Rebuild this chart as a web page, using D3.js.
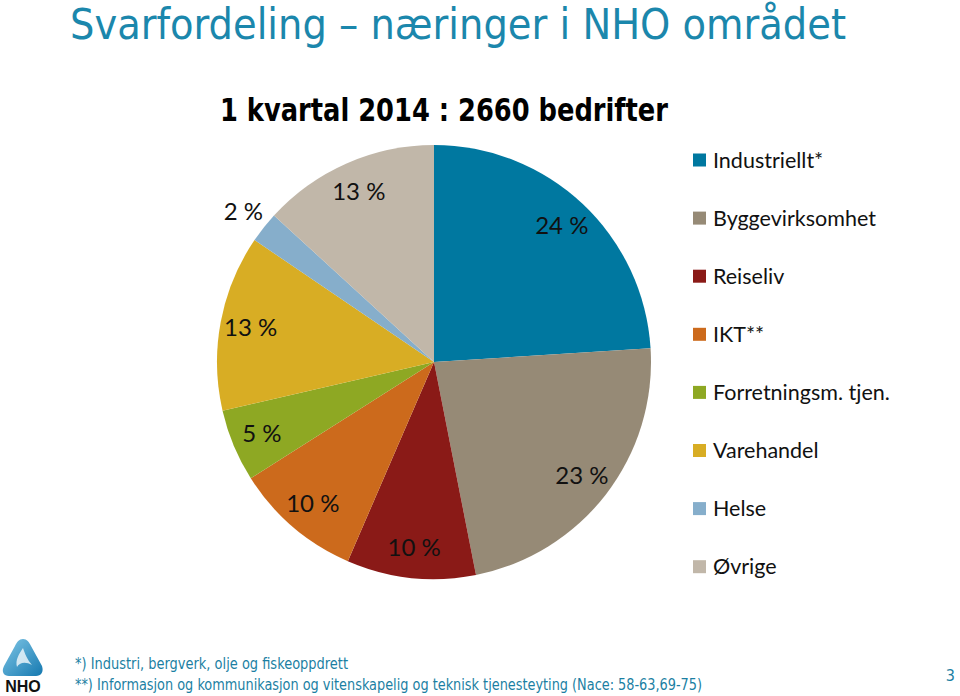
<!DOCTYPE html>
<html>
<head>
<meta charset="utf-8">
<script src="https://cdn.jsdelivr.net/npm/d3@7"></script>
<style>
  body { margin: 0; background: #fff; }
  svg { display: block; }
</style>
</head>
<body>
<div id="chart"></div>
<script>
// data
const categories = ["Industriellt*", "Byggevirksomhet", "Reiseliv", "IKT**",
  "Forretningsm. tjen.", "Varehandel", "Helse", "Øvrige"];
const shares = [24.0, 22.9, 9.6, 9.5, 5.4, 13.1, 2.3, 13.2];
const colors = ["#0078a0", "#968a76", "#8a1a17", "#cc6a1c",
  "#8ea823", "#d8ad24", "#86aecb", "#c1b7a9"];
const footnotes = [
  "*) Industri, bergverk, olje og fiskeoppdrett",
  "**) Informasjon og kommunikasjon og vitenskapelig og teknisk tjenesteyting (Nace: 58-63,69-75)"
];

const width = 960, height = 696;
const svg = d3.select("#chart").append("svg")
  .attr("width", width).attr("height", height);

// titles
svg.append("text")
  .attr("x", 70).attr("y", 39)
  .attr("font-family", "'Liberation Sans Narrow', 'DejaVu Sans Condensed', sans-serif")
  .attr("font-size", 42)
  .attr("fill", "#1b87ac")
  .attr("textLength", 776).attr("lengthAdjust", "spacingAndGlyphs")
  .text("Svarfordeling – næringer i NHO området");

svg.append("text")
  .attr("x", 220).attr("y", 121)
  .attr("font-family", "'Liberation Sans Narrow', 'DejaVu Sans Condensed', sans-serif")
  .attr("font-weight", "bold")
  .attr("font-size", 32)
  .attr("fill", "#000")
  .attr("textLength", 448).attr("lengthAdjust", "spacingAndGlyphs")
  .text("1 kvartal 2014 : 2660 bedrifter");

// pie
const cx = 434, cy = 362, r = 217;
const data = categories.map((c, i) => ({ name: c, value: shares[i], color: colors[i] }));
const pie = d3.pie().value(d => d.value).sort(null);
const arcs = pie(data);
const arc = d3.arc().innerRadius(0).outerRadius(r);

const g = svg.append("g").attr("transform", `translate(${cx},${cy})`);
g.selectAll("path.slice")
  .data(arcs)
  .enter()
  .append("path")
  .attr("class", "slice")
  .attr("d", arc)
  .attr("fill", d => d.data.color);

// labels: inside at ~0.85r, small slices outside
const inLabel = d3.arc().innerRadius(r * 0.86).outerRadius(r * 0.86);
const outLabel = d3.arc().innerRadius(r * 1.12).outerRadius(r * 1.12);
g.selectAll("text.lbl")
  .data(arcs)
  .enter()
  .append("text")
  .attr("class", "lbl")
  .attr("transform", d => `translate(${(d.data.value < 3 ? outLabel : inLabel).centroid(d)})`)
  .attr("text-anchor", "middle")
  .attr("dy", "0.35em")
  .attr("font-family", "Lato, 'Open Sans', sans-serif")
  .attr("font-size", 24)
  .attr("fill", "#111")
  .text(d => Math.round(d.data.value) + " %");

// legend
const legend = svg.append("g").attr("transform", "translate(693,160)");
const rows = legend.selectAll("g.row")
  .data(data)
  .enter()
  .append("g")
  .attr("class", "row")
  .attr("transform", (d, i) => `translate(0,${i * 58.1})`);
rows.append("rect")
  .attr("x", 0).attr("y", -6.5)
  .attr("width", 13).attr("height", 13)
  .attr("fill", d => d.color);
rows.append("text")
  .attr("x", 20).attr("y", 0)
  .attr("dy", "0.35em")
  .attr("font-family", "Lato, 'Open Sans', sans-serif")
  .attr("font-size", 21.5)
  .attr("fill", "#111")
  .text(d => d.name);

// footnotes
svg.selectAll("text.note")
  .data(footnotes)
  .enter()
  .append("text")
  .attr("class", "note")
  .attr("x", 75)
  .attr("y", (d, i) => 669 + i * 21)
  .attr("font-family", "'DejaVu Sans Condensed', 'Liberation Sans Narrow', sans-serif")
  .attr("font-size", 16)
  .attr("fill", "#1b7fa3")
  .attr("textLength", (d, i) => i === 0 ? 273 : 627)
  .attr("lengthAdjust", "spacingAndGlyphs")
  .text(d => d);

svg.append("text")
  .attr("x", 955).attr("y", 681)
  .attr("text-anchor", "end")
  .attr("font-family", "'DejaVu Sans Condensed', sans-serif")
  .attr("font-size", 16)
  .attr("fill", "#1b7fa3")
  .text("3");

// NHO logo (rough)
const logo = svg.append("g").attr("transform", "translate(3,638)");
const grad = svg.append("defs").append("linearGradient")
  .attr("id", "nhoGrad").attr("x1", 0).attr("y1", 0).attr("x2", 1).attr("y2", 1);
grad.append("stop").attr("offset", 0).attr("stop-color", "#7fc6e6");
grad.append("stop").attr("offset", 1).attr("stop-color", "#1679b0");
logo.append("path")
  .attr("d", "M20,1 C24,1 26,4 28,8 L39,28 C41,34 38,38 33,38 L6,38 C1,38 -2,34 1,28 L12,8 C14,4 16,1 20,1 Z")
  .attr("fill", "url(#nhoGrad)");
logo.append("path")
  .attr("d", "M20,10 C16,16 12,22 14,29 C16,25 22,23 29,27 C24,21 22,16 20,10 Z")
  .attr("fill", "#ffffff").attr("opacity", 0.75);
logo.append("text")
  .attr("x", 20).attr("y", 54)
  .attr("text-anchor", "middle")
  .attr("font-family", "'Liberation Sans', Arial, sans-serif")
  .attr("font-weight", "bold")
  .attr("font-size", 16)
  .attr("fill", "#111")
  .text("NHO");
</script>
</body>
</html>
